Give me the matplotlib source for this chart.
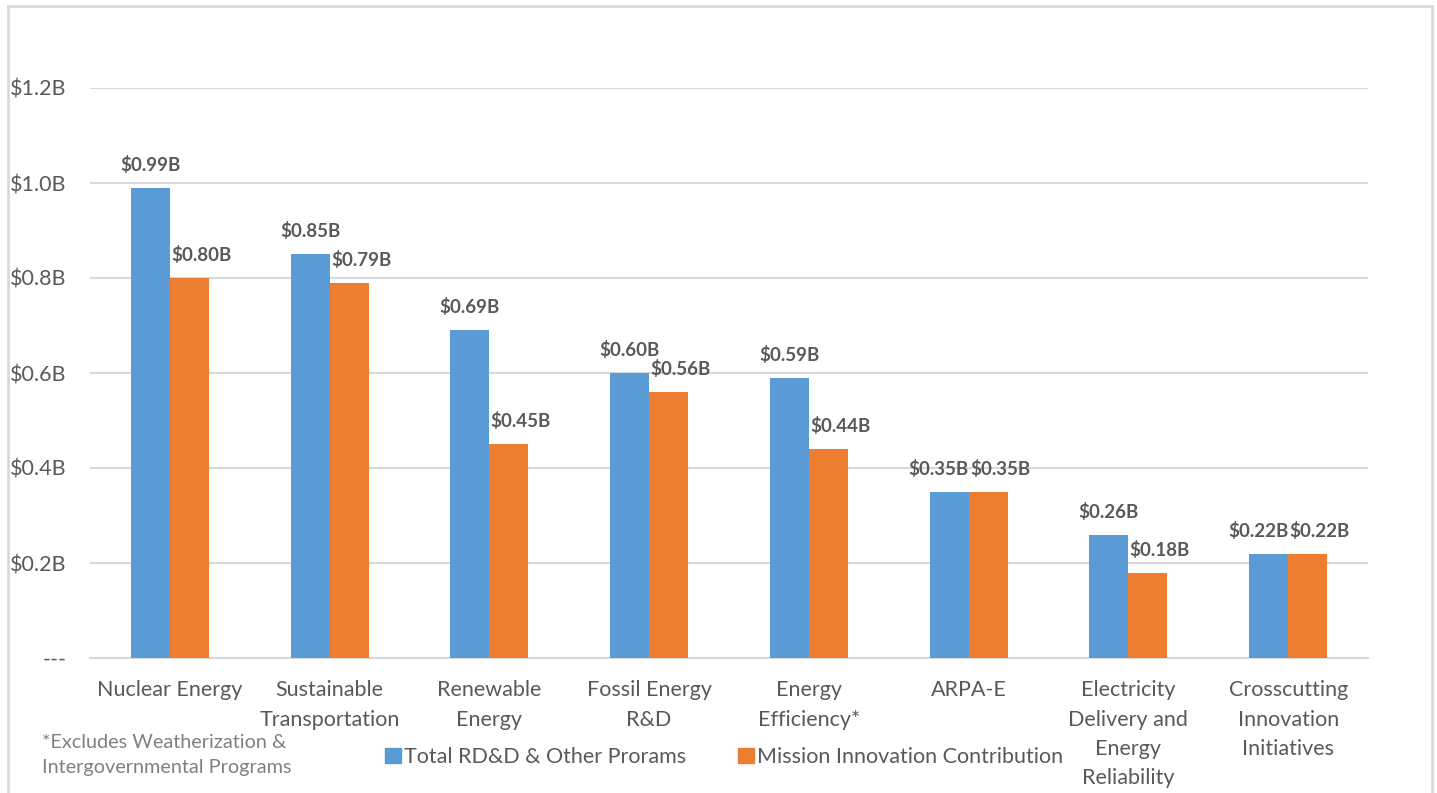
import matplotlib
matplotlib.use("Agg")
import matplotlib.pyplot as plt
import numpy as np
from matplotlib.patches import Rectangle
from matplotlib.lines import Line2D

categories = ["Nuclear Energy", "Sustainable\nTransportation", "Renewable\nEnergy",
              "Fossil Energy\nR&D", "Energy\nEfficiency*", "ARPA-E",
              "Electricity\nDelivery and\nEnergy\nReliability",
              "Crosscutting\nInnovation\nInitiatives"]
total_rdd = [0.99, 0.85, 0.69, 0.60, 0.59, 0.35, 0.26, 0.22]
mission = [0.80, 0.79, 0.45, 0.56, 0.44, 0.35, 0.18, 0.22]
series_names = ["Total RD&D & Other Prorams", "Mission Innovation Contribution"]
yticks = [0, 0.2, 0.4, 0.6, 0.8, 1.0, 1.2]
ytick_labels = ["---", "$0.2B", "$0.4B", "$0.6B", "$0.8B", "$1.0B", "$1.2B"]
footnote = "*Excludes Weatherization &\nIntergovernmental Programs"

BLUE = "#5b9bd5"
ORANGE = "#ed7d31"
TXT = "#595959"
GRID = "#d9d9d9"

plt.rcParams['font.family'] = ['Lato', 'DejaVu Sans']

W, H = 1437, 793
fig = plt.figure(figsize=(W / 100, H / 100), dpi=100)
ax = fig.add_axes([90 / W, 1 - 658 / H, (1368 - 90) / W, (658 - 88) / H])

x = np.arange(len(categories))
bw = 0.244
b1 = ax.bar(x - bw / 2, total_rdd, bw, color=BLUE, zorder=3, label=series_names[0])
b2 = ax.bar(x + bw / 2, mission, bw, color=ORANGE, zorder=3, label=series_names[1])

lab_kw = dict(textcoords="offset points", va="bottom", fontsize=13.5,
              fontweight="bold", color=TXT, zorder=4)
for r1, r2, v1, v2 in zip(b1, b2, total_rdd, mission):
    # Excel-style placement: labels nudged aside to avoid colliding with the neighbour
    if abs(v1 - v2) < 0.02:
        ax.annotate(f"${v1:.2f}B", (r1.get_x() + r1.get_width(), v1),
                    xytext=(0, 10), ha="right", **lab_kw)
    else:
        ax.annotate(f"${v1:.2f}B", (r1.get_x() + r1.get_width() / 2, v1),
                    xytext=(0, 10), ha="center", **lab_kw)
    ax.annotate(f"${v2:.2f}B", (r2.get_x(), v2),
                xytext=(1, 10), ha="left", **lab_kw)

ax.set_xlim(-0.5, len(categories) - 0.5)
ax.set_ylim(0, 1.2)
ax.set_yticks(yticks)
ax.set_yticklabels(ytick_labels)
ax.set_xticks(x)
ax.set_xticklabels(categories, linespacing=1.58, va="top")
ax.tick_params(axis="both", length=0, labelsize=15.5, labelcolor=TXT)
ax.tick_params(axis="x", pad=16)
ax.tick_params(axis="y", pad=17)
for lbl in ax.get_yticklabels():
    lbl.set_ha("right")
ax.yaxis.grid(True, color=GRID, linewidth=1.5, zorder=0)
for s in ("top", "right", "left"):
    ax.spines[s].set_visible(False)
ax.spines["bottom"].set_color(GRID)
ax.spines["bottom"].set_linewidth(1.5)

handles = [Rectangle((0, 0), 1, 1, color=BLUE), Rectangle((0, 0), 1, 1, color=ORANGE)]
fig.legend(handles, series_names, loc="center", bbox_to_anchor=(724 / W, 1 - 757 / H),
           ncol=2, frameon=False, fontsize=15.5, labelcolor=TXT,
           handlelength=0.75, handleheight=0.75, handletextpad=0.15, columnspacing=2.4)

fig.text(42 / W, 1 - 755 / H, footnote, fontsize=14.3, color="#808080",
         ha="left", va="center", linespacing=1.5)

# chart frame
fig.add_artist(Line2D([8 / W, 8 / W], [0, 1 - 6 / H], transform=fig.transFigure, color=GRID, lw=2))
fig.add_artist(Line2D([1432 / W, 1432 / W], [0, 1 - 6 / H], transform=fig.transFigure, color=GRID, lw=2))
fig.add_artist(Line2D([8 / W, 1432 / W], [1 - 6 / H, 1 - 6 / H], transform=fig.transFigure, color=GRID, lw=2))

fig.savefig("out.png", dpi=100)
